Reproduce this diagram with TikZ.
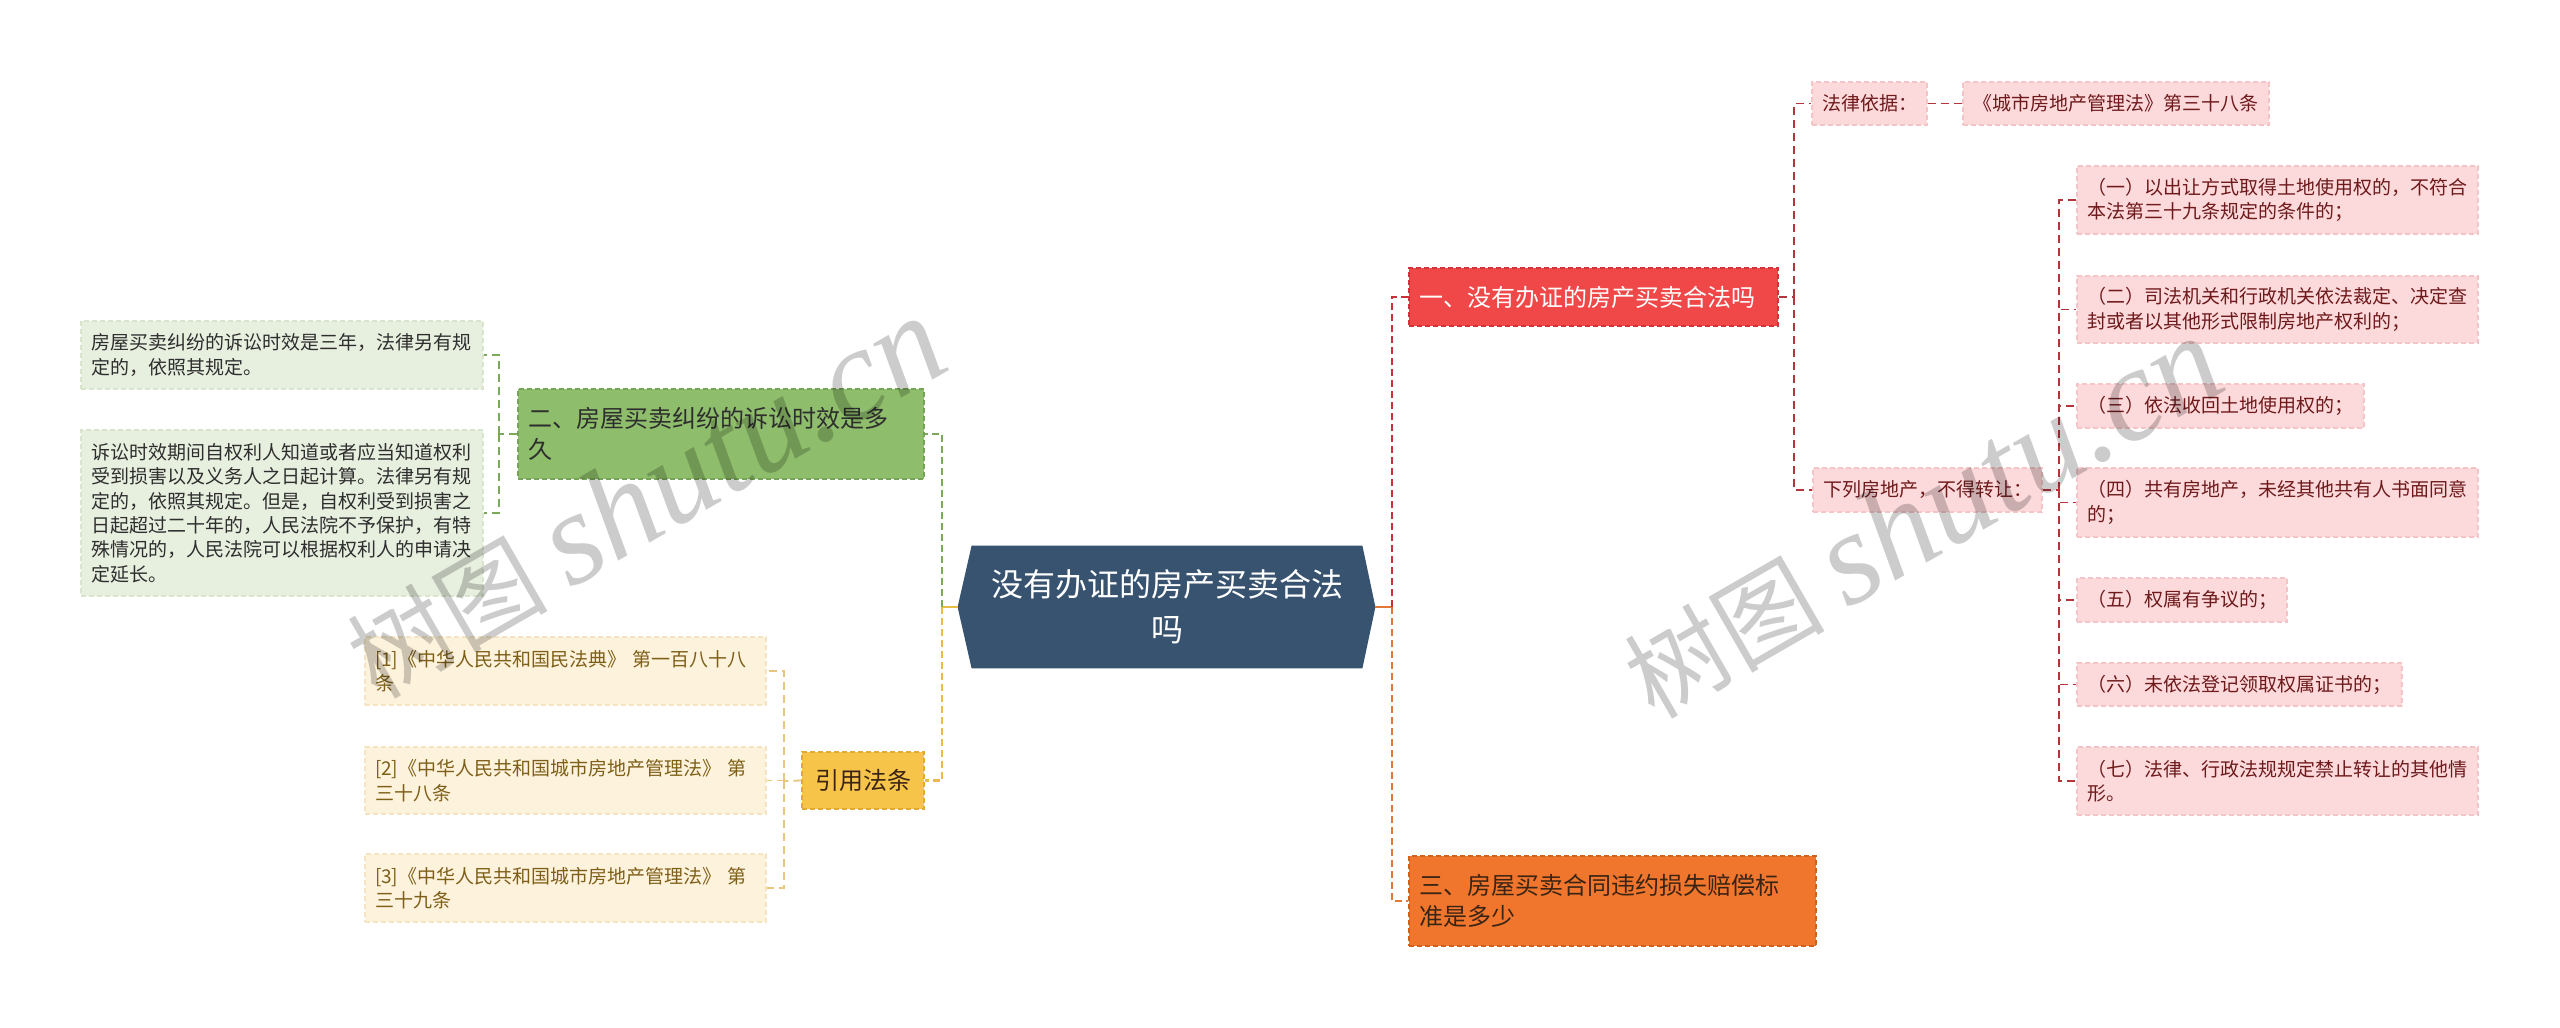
\documentclass[tikz,border=0pt]{standalone}
\usepackage{fontspec}
\setmainfont{Noto Sans CJK SC}
\newfontfamily\wmserif{Liberation Serif}
\usetikzlibrary{calc,backgrounds}
\definecolor{rootfill}{HTML}{385370}
\definecolor{redfill}{HTML}{F04848}
\definecolor{redborder}{HTML}{D03438}
\definecolor{greenfill}{HTML}{8EBD6B}
\definecolor{greenborder}{HTML}{76A456}
\definecolor{orangefill}{HTML}{F0762E}
\definecolor{orangeborder}{HTML}{D0621F}
\definecolor{yellowfill}{HTML}{F7C44A}
\definecolor{yellowborder}{HTML}{E2AA30}
\definecolor{pinkfill}{HTML}{FCD9DA}
\definecolor{pinkborder}{HTML}{F4C4C6}
\definecolor{pinktext}{HTML}{6E1A1C}
\definecolor{lgreenfill}{HTML}{E7EFDF}
\definecolor{lgreenborder}{HTML}{D8E5CC}
\definecolor{lyellowfill}{HTML}{FDF2DC}
\definecolor{lyellowborder}{HTML}{F5E4C0}
\definecolor{citetext}{HTML}{7E5F18}
\definecolor{darktext}{HTML}{2E2E2E}
\definecolor{brtext}{HTML}{3A2414}
\definecolor{redline}{HTML}{C8303A}
\definecolor{orangeline}{HTML}{E0783A}
\definecolor{pinkline}{HTML}{B4363C}
\definecolor{greenline}{HTML}{7AA95A}
\definecolor{yellowline}{HTML}{E9BA4C}
\definecolor{citeline}{HTML}{E8C67E}
\tikzset{
  box/.style={rectangle, inner xsep=5pt, inner ysep=1pt, align=left, anchor=center},
  bigfont/.style={font=\fontsize{12}{15.5}\selectfont},
  smallfont/.style={font=\fontsize{9.5}{12.2}\selectfont},
  bdash/.style={dash pattern=on 2.5pt off 1.5pt, line width=0.7pt},
  redbox/.style={box, bigfont, fill=redfill, draw=redborder, bdash, text=white},
  greenbox/.style={box, bigfont, fill=greenfill, draw=greenborder, bdash, text=darktext},
  orangebox/.style={box, bigfont, fill=orangefill, draw=orangeborder, bdash, text=brtext},
  yellowbox/.style={box, bigfont, fill=yellowfill, draw=yellowborder, bdash, text=brtext, align=center},
  pinkleaf/.style={box, smallfont, fill=pinkfill, draw=pinkborder, bdash, text=pinktext},
  greenleaf/.style={box, smallfont, fill=lgreenfill, draw=lgreenborder, bdash, text=darktext},
  citeleaf/.style={box, smallfont, fill=lyellowfill, draw=lyellowborder, bdash, text=citetext},
  mainline/.style={line width=1.4pt, dash pattern=on 3.5pt off 2pt},
  subline/.style={line width=0.9pt, dash pattern=on 4pt off 2.5pt},
  wm/.style={text=black, text opacity=0.2, inner sep=0pt}
}
\begin{document}
\begin{tikzpicture}[x=0.5pt,y=-0.5pt]
\useasboundingbox (0,0) rectangle (2560,1028);
\begin{scope}[on background layer]
\fill[white] (0,0) rectangle (2560,1028);
\end{scope}

% root
\node[rectangle, inner sep=0pt, minimum width=195pt, minimum height=61pt, align=center, text=white,
      font=\fontsize{16}{22.5}\selectfont] (root) at (1167,607) {没有办证的房产买卖合法\\吗};
\coordinate (rootL) at ($(root.west)+(-14,0)$);
\coordinate (rootR) at ($(root.east)+(13,0)$);
\begin{scope}[on background layer]
\fill[rootfill] (rootL) -- (root.north west) -- (root.north east) -- (rootR) -- (root.south east) -- (root.south west) -- cycle;
\end{scope}

% right main branches
\node[redbox, minimum width=184.5pt, minimum height=29pt, text width=174.5pt] (n1) at (1593.5,297) {一、没有办证的房产买卖合法吗};
\node[orangebox, minimum width=203.5pt, minimum height=45pt, text width=193.5pt] (n3) at (1612.5,901) {三、房屋买卖合同违约损失赔偿标\\准是多少};

% left main branches
\node[greenbox, minimum width=203pt, minimum height=45pt, text width=193pt] (n2) at (721,434) {二、房屋买卖纠纷的诉讼时效是多\\久};
\node[yellowbox, minimum width=61pt, minimum height=28.5pt] (cite) at (863,780.5) {引用法条};

% n1 subtree
\node[pinkleaf, minimum width=57.5pt, minimum height=21.5pt] (law) at (1869.5,103.5) {法律依据：};
\node[pinkleaf, minimum width=153pt, minimum height=21.5pt] (law2) at (2116,103.5) {《城市房地产管理法》第三十八条};
\node[pinkleaf, minimum width=114.5pt, minimum height=22pt] (forbid) at (1927.5,490) {下列房地产，不得转让：};

\node[pinkleaf, minimum width=200.5pt, minimum height=34pt, text width=190.5pt] (i1) at (2277.5,200) {（一）以出让方式取得土地使用权的，不符合\\本法第三十九条规定的条件的；};
\node[pinkleaf, minimum width=200.5pt, minimum height=33.5pt, text width=190.5pt] (i2) at (2277.5,309.5) {（二）司法机关和行政机关依法裁定、决定查\\封或者以其他形式限制房地产权利的；};
\node[pinkleaf, minimum width=143.5pt, minimum height=22pt, text width=133.5pt] (i3) at (2220.5,406) {（三）依法收回土地使用权的；};
\node[pinkleaf, minimum width=200.5pt, minimum height=34.5pt, text width=190.5pt] (i4) at (2277.5,502.5) {（四）共有房地产，未经其他共有人书面同意\\的；};
\node[pinkleaf, minimum width=105pt, minimum height=22pt, text width=95pt] (i5) at (2182,600) {（五）权属有争议的；};
\node[pinkleaf, minimum width=162.5pt, minimum height=21.5pt, text width=152.5pt] (i6) at (2239.5,684.5) {（六）未依法登记领取权属证书的；};
\node[pinkleaf, minimum width=200.5pt, minimum height=34pt, text width=190.5pt] (i7) at (2277.5,781) {（七）法律、行政法规规定禁止转让的其他情\\形。};

% n2 subtree
\node[greenleaf, minimum width=201pt, minimum height=34pt, text width=191pt] (g1) at (282,355) {房屋买卖纠纷的诉讼时效是三年，法律另有规\\定的，依照其规定。};
\node[greenleaf, minimum width=201pt, minimum height=83pt, text width=191pt] (g2) at (282,513) {诉讼时效期间自权利人知道或者应当知道权利\\受到损害以及义务人之日起计算。法律另有规\\定的，依照其规定。但是，自权利受到损害之\\日起超过二十年的，人民法院不予保护，有特\\殊情况的，人民法院可以根据权利人的申请决\\定延长。};

% cite subtree
\node[citeleaf, minimum width=200.5pt, minimum height=34pt, text width=190.5pt] (c1) at (565.5,671) {[1]《中华人民共和国民法典》 第一百八十八\\条};
\node[citeleaf, minimum width=200.5pt, minimum height=33.5pt, text width=190.5pt] (c2) at (565.5,780.5) {[2]《中华人民共和国城市房地产管理法》 第\\三十八条};
\node[citeleaf, minimum width=200.5pt, minimum height=34pt, text width=190.5pt] (c3) at (565.5,888) {[3]《中华人民共和国城市房地产管理法》 第\\三十九条};

% junctions
\coordinate (jr) at (1392,607);
\coordinate (jl) at (942,607);
\coordinate (j1) at (1794,297);
\coordinate (j2) at (2059,490);
\coordinate (j3) at (499,434);
\coordinate (j4) at (784,781);

% main connectors
\draw[orangeline, line width=1.4pt] (rootR) -- (jr);
\draw[redline, mainline] (jr) |- (n1.west);
\draw[orangeline, mainline] (jr) |- (n3.west);
\draw[yellowline, line width=1.4pt] (rootL) -- (jl);
\draw[greenline, mainline] (jl) |- (n2.east);
\draw[yellowline, mainline] (jl) |- (cite.east);

% n1 subtree connectors
\draw[pinkline, subline] (n1.east) -- (j1);
\draw[pinkline, subline] (j1) |- (law.west);
\draw[pinkline, subline] (j1) |- (forbid.west);
\draw[pinkline, subline] (law.east) -- (law2.west);
\draw[pinkline, subline] (forbid.east) -- (j2);
\foreach \k in {i1,i2,i3,i4,i5,i6,i7} \draw[pinkline, subline] (j2) |- (\k.west);

% n2 subtree connectors
\draw[greenline, subline] (n2.west) -- (j3);
\draw[greenline, subline] (j3) |- (g1.east);
\draw[greenline, subline] (j3) |- (g2.east);

% cite subtree connectors
\draw[citeline, subline] (cite.west) -- (j4);
\foreach \k in {c1,c2,c3} \draw[citeline, subline] (j4) |- (\k.east);

% watermarks
\node[wm, rotate=30] (wm1) at (645,498) {\fontsize{50}{50}\selectfont 树图 {\wmserif\itshape\fontsize{66}{66}\selectfont shutu.cn}};
\node[wm, rotate=30] (wm2) at (1922,518) {\fontsize{50}{50}\selectfont 树图 {\wmserif\itshape\fontsize{66}{66}\selectfont shutu.cn}};
\end{tikzpicture}
\end{document}
